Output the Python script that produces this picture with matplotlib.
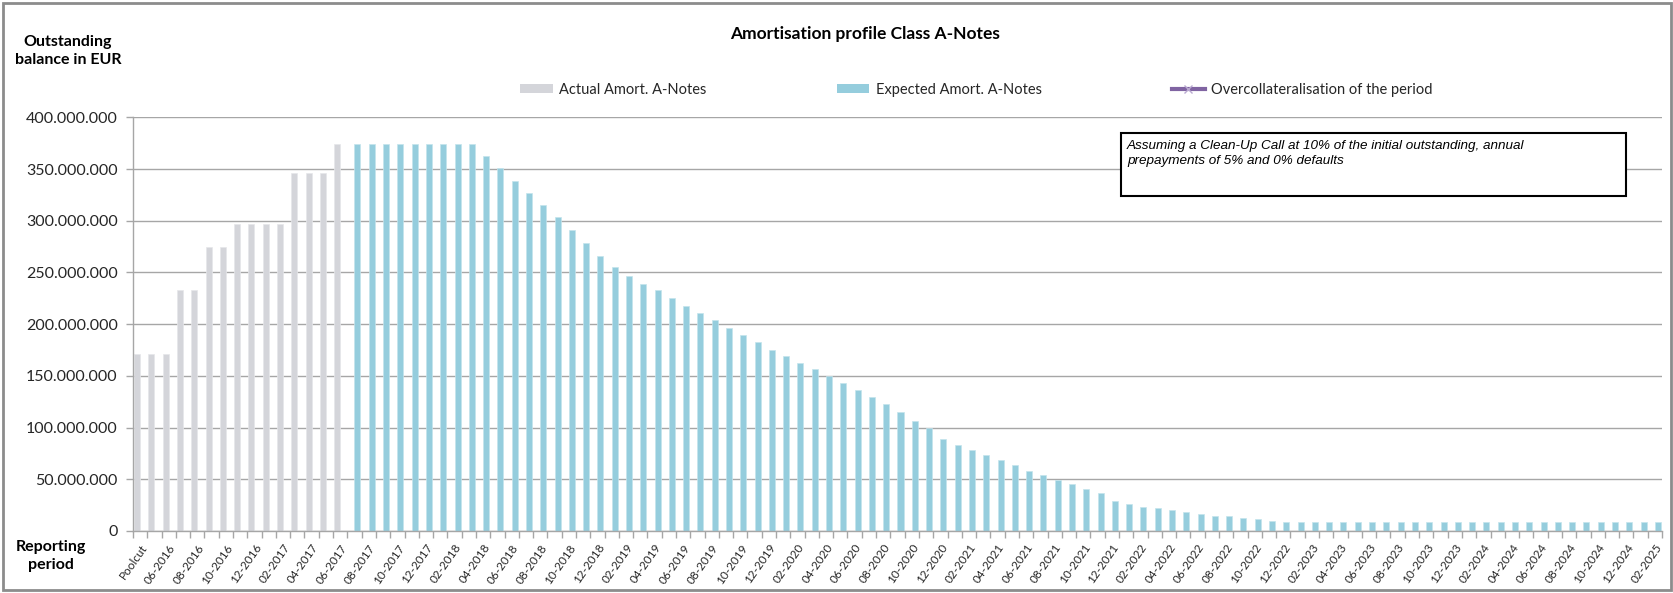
import matplotlib
matplotlib.use("Agg")
import matplotlib.pyplot as plt
import numpy as np
import pandas as pd
from matplotlib.patches import Rectangle, Patch
from matplotlib.lines import Line2D
from matplotlib.ticker import FuncFormatter, FixedLocator

# ---------------- data ----------------
months = [p.strftime("%m-%Y") for p in pd.period_range("2016-05", "2025-02", freq="M")]
categories = ["Poolcut"] + months

# outstanding balance, millions EUR
actual_mn = [171.5, 171.5, 171.5, 232.8, 232.8, 274.7, 274.7, 296.7, 296.7, 296.7,
             296.7, 346.4, 346.4, 346.4, 374.5]
expected_mn = [374.5, 374.5, 374.5, 374.5, 374.5, 374.5, 374.5, 374.5, 374.5,
               362.7, 350.8, 338.5, 326.5, 315.5, 303.3, 290.7, 278.7, 265.8, 255.4,
               246.1, 239.3, 232.6, 225.4, 217.6, 210.9, 204.1, 196.3, 189.5, 182.8,
               175.4, 168.9, 162.1, 156.3, 149.5, 143.4, 136.2, 129.8, 122.7, 114.9,
               106.6, 99.4, 89.4, 83.6, 78.5, 73.9, 69.1, 63.9, 58.4, 54.3,
               49.7, 45.8, 40.7, 36.4, 29.1, 26.5, 23.5, 21.9, 20.3, 18.7,
               16.8, 14.8, 14.1, 12.6, 11.6, 10.0, 9.0, 9.0,
               8.4, 8.4, 8.4, 8.4, 8.4, 8.4, 8.4, 8.4, 8.4, 8.4, 8.4, 8.4, 8.4,
               8.4, 8.4, 8.4, 8.4, 8.4, 8.4, 8.4, 8.4, 8.4, 8.4, 8.4, 8.4]
y_ticks_mn = [0, 50, 100, 150, 200, 250, 300, 350, 400]

title = "Amortisation profile Class A-Notes"
legend_labels = ["Actual Amort. A-Notes", "Expected Amort. A-Notes",
                 "Overcollateralisation of the period"]
note = ("Assuming a Clean-Up Call at 10% of the initial outstanding, annual\n"
        "prepayments of 5% and 0% defaults")

# ---------------- style ----------------
FONT = ["Lato", "DejaVu Sans"]
plt.rcParams["font.family"] = FONT
GRAY_BAR = "#D4D5DA"
BLUE_BAR = "#95CDDD"
PURPLE = "#8064A2"
GRID = "#A6A6A6"
TXT = "#262626"

W, H = 1674, 593
fig = plt.figure(figsize=(W / 100, H / 100), dpi=100)

def fx(px):
    return px / W

def fy(py):
    return 1 - py / H

# outer chart border
fig.patches.append(Rectangle((fx(3), fy(590)), fx(1668), 587 / H,
                             transform=fig.transFigure, fill=False,
                             edgecolor="#8C8C8C", linewidth=2))

ax_l, ax_r, ax_t, ax_b = 133, 1662, 117.3, 531
ax = fig.add_axes([fx(ax_l), fy(ax_b), fx(ax_r - ax_l), (ax_b - ax_t) / H])

n_act = len(actual_mn)
x_all = np.arange(len(categories))
x_act = x_all[:n_act]
x_exp = x_all[n_act:]
bw = 0.42

# clustered columns: actual in the left slot, expected in the right slot
ax.bar(x_act - bw / 2, actual_mn, width=bw, color=GRAY_BAR, edgecolor="#E6E7EA",
       linewidth=0.5, zorder=3)
ax.bar(x_exp + bw / 2, expected_mn, width=bw, color=BLUE_BAR, edgecolor="#C4E4EC",
       linewidth=0.5, zorder=3)
ax.plot([], [], color=PURPLE, lw=3, marker="x", ms=6, mec="#B9A9D0")

ax.set_xlim(-0.5, len(categories) - 0.5)
ax.set_ylim(0, 400)
ax.yaxis.set_major_locator(FixedLocator(y_ticks_mn))
ax.yaxis.set_major_formatter(FuncFormatter(
    lambda v, p: f"{v * 1e6:,.0f}".replace(",", ".")))
ax.grid(axis="y", color=GRID, linewidth=1, zorder=0)
ax.set_axisbelow(True)

for s in ["top", "right"]:
    ax.spines[s].set_visible(False)
for s in ["left", "bottom"]:
    ax.spines[s].set_color("#A6A6A6")
    ax.spines[s].set_linewidth(1)
    ax.spines[s].set_zorder(4)

ax.tick_params(axis="y", length=5, width=1, color="#A6A6A6", labelsize=11.5,
               labelcolor=TXT, pad=6)

# x: labels every other category, tick marks between categories
ax.set_xticks(x_all[::2])
ax.set_xticklabels(categories[::2], rotation=55, ha="right", va="top",
                   rotation_mode="anchor", fontsize=8.5, color=TXT)
ax.set_xticks(np.arange(-0.5, len(categories), 1.0), minor=True)
ax.tick_params(axis="x", which="major", length=0, pad=8)
ax.tick_params(axis="x", which="minor", length=5, width=1, color="#A6A6A6")

# texts
fig.text(fx(865), fy(34), title, ha="center", va="center", fontsize=12.5,
         fontweight="bold", color="black")
fig.text(fx(68), fy(51), "Outstanding\nbalance in EUR", ha="center", va="center",
         fontsize=11.5, fontweight="bold", color="black", linespacing=1.3)
fig.text(fx(51), fy(556), "Reporting\nperiod", ha="center", va="center",
         fontsize=11.5, fontweight="bold", color="black", linespacing=1.3)

# legend
handles = [Patch(facecolor=GRAY_BAR, edgecolor="none"),
           Patch(facecolor=BLUE_BAR, edgecolor="none"),
           Line2D([], [], color=PURPLE, lw=3, marker="x", ms=6, mec="#B9A9D0")]
fig.legend(handles, legend_labels, ncol=3, loc="center left",
           bbox_to_anchor=(fx(520), fy(90)), frameon=False, fontsize=10.5,
           handlelength=2.25, handleheight=0.55, handletextpad=0.45,
           columnspacing=8.9, borderpad=0, borderaxespad=0, labelcolor=TXT)

# note box
fig.patches.append(Rectangle((fx(1121), fy(196)), fx(505), 63 / H,
                             transform=fig.transFigure, facecolor="white",
                             edgecolor="black", linewidth=1.5, zorder=5))
fig.text(fx(1127), fy(140), note, ha="left", va="top", fontsize=9.7,
         fontstyle="italic", family=["Liberation Sans", "DejaVu Sans"],
         color="black", linespacing=1.35, zorder=6)

fig.savefig("out.png", dpi=100)
